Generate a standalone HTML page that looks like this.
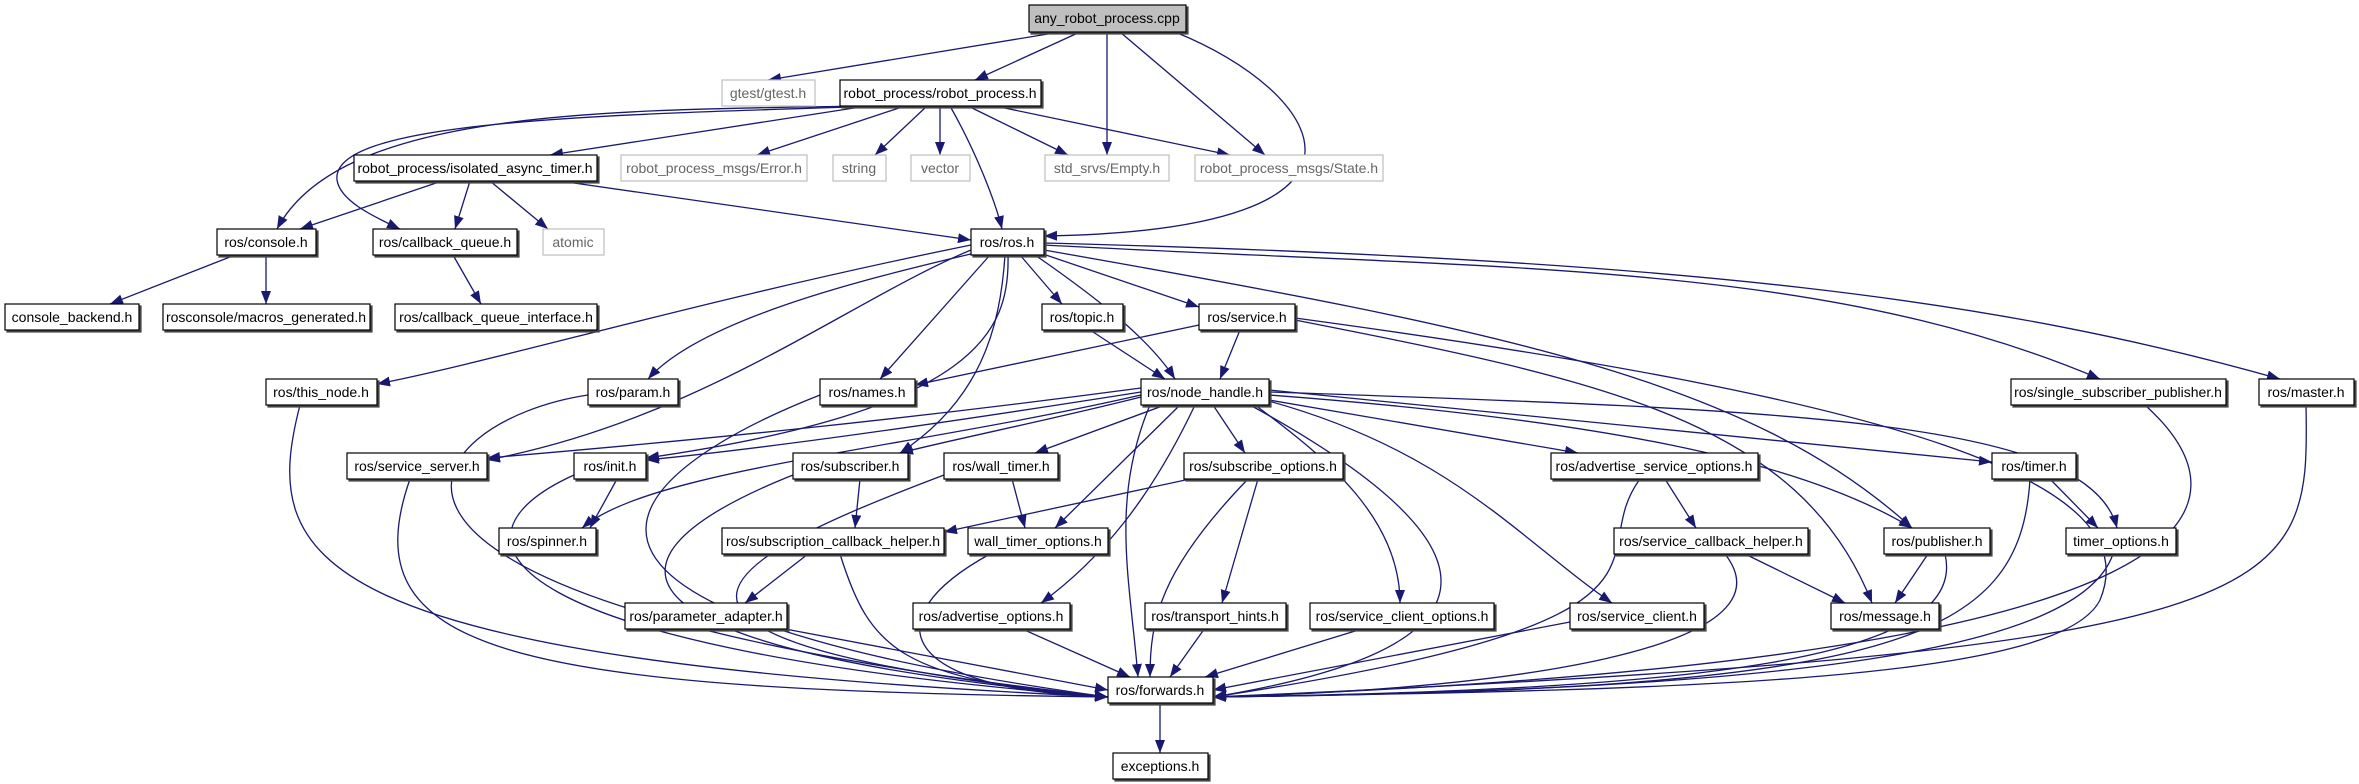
<!DOCTYPE html>
<html><head><meta charset="utf-8"><style>
html,body{margin:0;padding:0;background:#fff}
svg{display:block}
text{font-family:"Liberation Sans",Arial,sans-serif;font-size:14px;text-anchor:middle}
.n rect{fill:#fff;stroke:#000;stroke-width:1.2;filter:url(#s)}
.g rect{fill:#fff;stroke:#bfbfbf;stroke-width:1.2}
.g text{fill:#666}
path.e{fill:none;stroke:#191970;stroke-width:1.3;marker-end:url(#a)}
</style></head><body>
<svg width="2359" height="784" viewBox="0 0 2359 784" xmlns="http://www.w3.org/2000/svg">
<defs><marker id="a" markerUnits="userSpaceOnUse" markerWidth="14" markerHeight="11" refX="13" refY="5" orient="auto"><path d="M0,0 L13,5 L0,10 z" fill="#191970"/></marker>
<filter id="s" x="-5%" y="-10%" width="115%" height="130%"><feDropShadow dx="2" dy="2" stdDeviation="0" flood-color="#444"/></filter></defs>
<g>
<path class="e" d="M1060,32 L768,80"/>
<path class="e" d="M1080,32 L975,80"/>
<path class="e" d="M1107,32 L1107,155"/>
<path class="e" d="M1120,32 L1265,155"/>
<path class="e" d="M1175,32 C1320,90 1420,230 1044,236"/>
<path class="e" d="M865,106 C600,110 340,110 277,229"/>
<path class="e" d="M880,106 C600,115 330,120 337,180 C340,200 370,215 400,229"/>
<path class="e" d="M867,106 L550,155"/>
<path class="e" d="M905,106 L757,155"/>
<path class="e" d="M927,106 L875,155"/>
<path class="e" d="M940,106 L940,155"/>
<path class="e" d="M950,106 C975,150 995,200 1002,229"/>
<path class="e" d="M968,106 L1068,155"/>
<path class="e" d="M995,106 L1230,155"/>
<path class="e" d="M442,181 L300,229"/>
<path class="e" d="M470,181 L455,229"/>
<path class="e" d="M490,181 L548,229"/>
<path class="e" d="M560,181 L971,240"/>
<path class="e" d="M235,255 L110,304"/>
<path class="e" d="M266,255 L266,304"/>
<path class="e" d="M453,255 L481,304"/>
<path class="e" d="M971,245 C700,300 500,360 377,384"/>
<path class="e" d="M975,253 C860,280 700,320 648,379"/>
<path class="e" d="M990,255 L880,379"/>
<path class="e" d="M1020,255 L1062,304"/>
<path class="e" d="M1040,253 L1199,307"/>
<path class="e" d="M1035,255 C1100,300 1150,340 1175,379"/>
<path class="e" d="M971,250 C850,300 700,420 487,460"/>
<path class="e" d="M1008,255 C1010,330 980,410 646,458"/>
<path class="e" d="M1005,255 C1000,330 980,400 900,453"/>
<path class="e" d="M1044,250 C1500,330 1750,380 1912,528"/>
<path class="e" d="M1044,245 C1500,270 1820,260 2100,379"/>
<path class="e" d="M1044,243 C1700,260 2000,300 2280,379"/>
<path class="e" d="M1141,395 C900,450 650,470 582,528"/>
<path class="e" d="M1295,320 C1600,380 1800,420 1872,603"/>
<path class="e" d="M1295,318 C1900,400 2150,480 2100,600 C2060,680 1700,690 1213,697"/>
<path class="e" d="M1199,325 L915,385"/>
<path class="e" d="M1240,330 L1220,379"/>
<path class="e" d="M1090,330 L1165,379"/>
<path class="e" d="M300,405 C260,560 300,660 1108,697"/>
<path class="e" d="M588,395 C420,420 250,600 1108,697"/>
<path class="e" d="M820,395 C680,450 400,600 1108,697"/>
<path class="e" d="M410,479 C350,650 500,690 1108,697"/>
<path class="e" d="M574,475 C430,540 500,650 1108,697"/>
<path class="e" d="M793,475 C580,560 600,650 1108,697"/>
<path class="e" d="M944,475 C720,560 560,640 1108,697"/>
<path class="e" d="M840,554 C870,650 900,680 1108,697"/>
<path class="e" d="M990,554 C870,620 900,690 1108,697"/>
<path class="e" d="M780,628 L1108,690"/>
<path class="e" d="M1020,628 L1130,677"/>
<path class="e" d="M1150,405 C1110,500 1130,580 1138,677"/>
<path class="e" d="M1141,388 C900,420 700,440 487,458"/>
<path class="e" d="M1141,392 C900,430 750,450 646,460"/>
<path class="e" d="M1141,397 C1050,420 950,440 900,453"/>
<path class="e" d="M1165,405 L1035,453"/>
<path class="e" d="M1180,405 L1055,528"/>
<path class="e" d="M1213,405 L1245,453"/>
<path class="e" d="M1195,405 C1150,500 1100,560 1041,603"/>
<path class="e" d="M1255,405 C1330,460 1400,520 1400,603"/>
<path class="e" d="M1265,400 C1450,450 1520,540 1612,603"/>
<path class="e" d="M1269,400 L1578,453"/>
<path class="e" d="M1269,395 C1600,420 1800,460 1912,528"/>
<path class="e" d="M1269,390 L1992,462"/>
<path class="e" d="M1269,392 C1800,410 2090,420 2117,528"/>
<path class="e" d="M1250,405 C1460,520 1560,640 1213,697"/>
<path class="e" d="M1190,479 L944,532"/>
<path class="e" d="M1258,479 L1222,603"/>
<path class="e" d="M1248,479 C1160,570 1150,620 1150,677"/>
<path class="e" d="M1665,479 L1696,528"/>
<path class="e" d="M1640,479 C1580,560 1720,620 1213,697"/>
<path class="e" d="M2050,479 L2098,528"/>
<path class="e" d="M2030,479 C2020,640 1900,690 1213,697"/>
<path class="e" d="M1745,554 L1845,603"/>
<path class="e" d="M1725,554 C1800,650 1500,690 1213,697"/>
<path class="e" d="M1928,554 L1895,603"/>
<path class="e" d="M1945,554 C1970,660 1700,690 1213,697"/>
<path class="e" d="M2113,554 C2080,650 1800,690 1213,697"/>
<path class="e" d="M2145,405 C2250,500 2260,660 1213,697"/>
<path class="e" d="M2306,405 C2310,600 2300,650 1213,697"/>
<path class="e" d="M1205,628 L1170,677"/>
<path class="e" d="M1365,628 L1205,677"/>
<path class="e" d="M1570,622 L1213,690"/>
<path class="e" d="M860,479 L855,528"/>
<path class="e" d="M1012,479 L1025,528"/>
<path class="e" d="M617,479 L590,528"/>
<path class="e" d="M808,554 L745,603"/>
<path class="e" d="M1160,703 L1160,753"/>
</g>
<g class="n"><rect x="1029" y="5" width="157" height="27" style="fill:#bfbfbf"/><text x="1107" y="23">any_robot_process.cpp</text></g>
<g class="g"><rect x="722" y="80" width="93" height="26"/><text x="768" y="98">gtest/gtest.h</text></g>
<g class="n"><rect x="840" y="80" width="201" height="26"/><text x="940" y="98">robot_process/robot_process.h</text></g>
<g class="n"><rect x="354" y="155" width="243" height="26"/><text x="475" y="173">robot_process/isolated_async_timer.h</text></g>
<g class="g"><rect x="621" y="155" width="186" height="26"/><text x="714" y="173">robot_process_msgs/Error.h</text></g>
<g class="g"><rect x="833" y="155" width="53" height="26"/><text x="859" y="173">string</text></g>
<g class="g"><rect x="911" y="155" width="59" height="26"/><text x="940" y="173">vector</text></g>
<g class="g"><rect x="1045" y="155" width="124" height="26"/><text x="1107" y="173">std_srvs/Empty.h</text></g>
<g class="g"><rect x="1195" y="155" width="188" height="26"/><text x="1289" y="173">robot_process_msgs/State.h</text></g>
<g class="n"><rect x="217" y="229" width="99" height="26"/><text x="266" y="247">ros/console.h</text></g>
<g class="n"><rect x="373" y="229" width="144" height="26"/><text x="445" y="247">ros/callback_queue.h</text></g>
<g class="g"><rect x="543" y="229" width="61" height="26"/><text x="573" y="247">atomic</text></g>
<g class="n"><rect x="971" y="229" width="73" height="26"/><text x="1007" y="247">ros/ros.h</text></g>
<g class="n"><rect x="5" y="304" width="134" height="26"/><text x="72" y="322">console_backend.h</text></g>
<g class="n"><rect x="163" y="304" width="207" height="26"/><text x="266" y="322">rosconsole/macros_generated.h</text></g>
<g class="n"><rect x="395" y="304" width="202" height="26"/><text x="496" y="322">ros/callback_queue_interface.h</text></g>
<g class="n"><rect x="1042" y="304" width="81" height="26"/><text x="1082" y="322">ros/topic.h</text></g>
<g class="n"><rect x="1199" y="304" width="96" height="26"/><text x="1247" y="322">ros/service.h</text></g>
<g class="n"><rect x="266" y="379" width="111" height="26"/><text x="321" y="397">ros/this_node.h</text></g>
<g class="n"><rect x="588" y="379" width="90" height="26"/><text x="633" y="397">ros/param.h</text></g>
<g class="n"><rect x="820" y="379" width="95" height="26"/><text x="867" y="397">ros/names.h</text></g>
<g class="n"><rect x="1141" y="379" width="128" height="26"/><text x="1205" y="397">ros/node_handle.h</text></g>
<g class="n"><rect x="2011" y="379" width="215" height="26"/><text x="2118" y="397">ros/single_subscriber_publisher.h</text></g>
<g class="n"><rect x="2259" y="379" width="95" height="26"/><text x="2306" y="397">ros/master.h</text></g>
<g class="n"><rect x="347" y="453" width="140" height="26"/><text x="417" y="471">ros/service_server.h</text></g>
<g class="n"><rect x="574" y="453" width="72" height="26"/><text x="610" y="471">ros/init.h</text></g>
<g class="n"><rect x="793" y="453" width="115" height="26"/><text x="850" y="471">ros/subscriber.h</text></g>
<g class="n"><rect x="944" y="453" width="114" height="26"/><text x="1001" y="471">ros/wall_timer.h</text></g>
<g class="n"><rect x="1184" y="453" width="159" height="26"/><text x="1263" y="471">ros/subscribe_options.h</text></g>
<g class="n"><rect x="1551" y="453" width="207" height="26"/><text x="1654" y="471">ros/advertise_service_options.h</text></g>
<g class="n"><rect x="1992" y="453" width="84" height="26"/><text x="2034" y="471">ros/timer.h</text></g>
<g class="n"><rect x="499" y="528" width="97" height="26"/><text x="547" y="546">ros/spinner.h</text></g>
<g class="n"><rect x="722" y="528" width="222" height="26"/><text x="833" y="546">ros/subscription_callback_helper.h</text></g>
<g class="n"><rect x="968" y="528" width="140" height="26"/><text x="1038" y="546">wall_timer_options.h</text></g>
<g class="n"><rect x="1614" y="528" width="194" height="26"/><text x="1711" y="546">ros/service_callback_helper.h</text></g>
<g class="n"><rect x="1884" y="528" width="106" height="26"/><text x="1937" y="546">ros/publisher.h</text></g>
<g class="n"><rect x="2066" y="528" width="110" height="26"/><text x="2121" y="546">timer_options.h</text></g>
<g class="n"><rect x="625" y="603" width="162" height="26"/><text x="706" y="621">ros/parameter_adapter.h</text></g>
<g class="n"><rect x="913" y="603" width="157" height="26"/><text x="991" y="621">ros/advertise_options.h</text></g>
<g class="n"><rect x="1145" y="603" width="141" height="26"/><text x="1215" y="621">ros/transport_hints.h</text></g>
<g class="n"><rect x="1310" y="603" width="184" height="26"/><text x="1402" y="621">ros/service_client_options.h</text></g>
<g class="n"><rect x="1570" y="603" width="134" height="26"/><text x="1637" y="621">ros/service_client.h</text></g>
<g class="n"><rect x="1831" y="603" width="108" height="26"/><text x="1885" y="621">ros/message.h</text></g>
<g class="n"><rect x="1108" y="677" width="105" height="26"/><text x="1160" y="695">ros/forwards.h</text></g>
<g class="n"><rect x="1113" y="753" width="95" height="26"/><text x="1160" y="771">exceptions.h</text></g>
</svg>
</body></html>
